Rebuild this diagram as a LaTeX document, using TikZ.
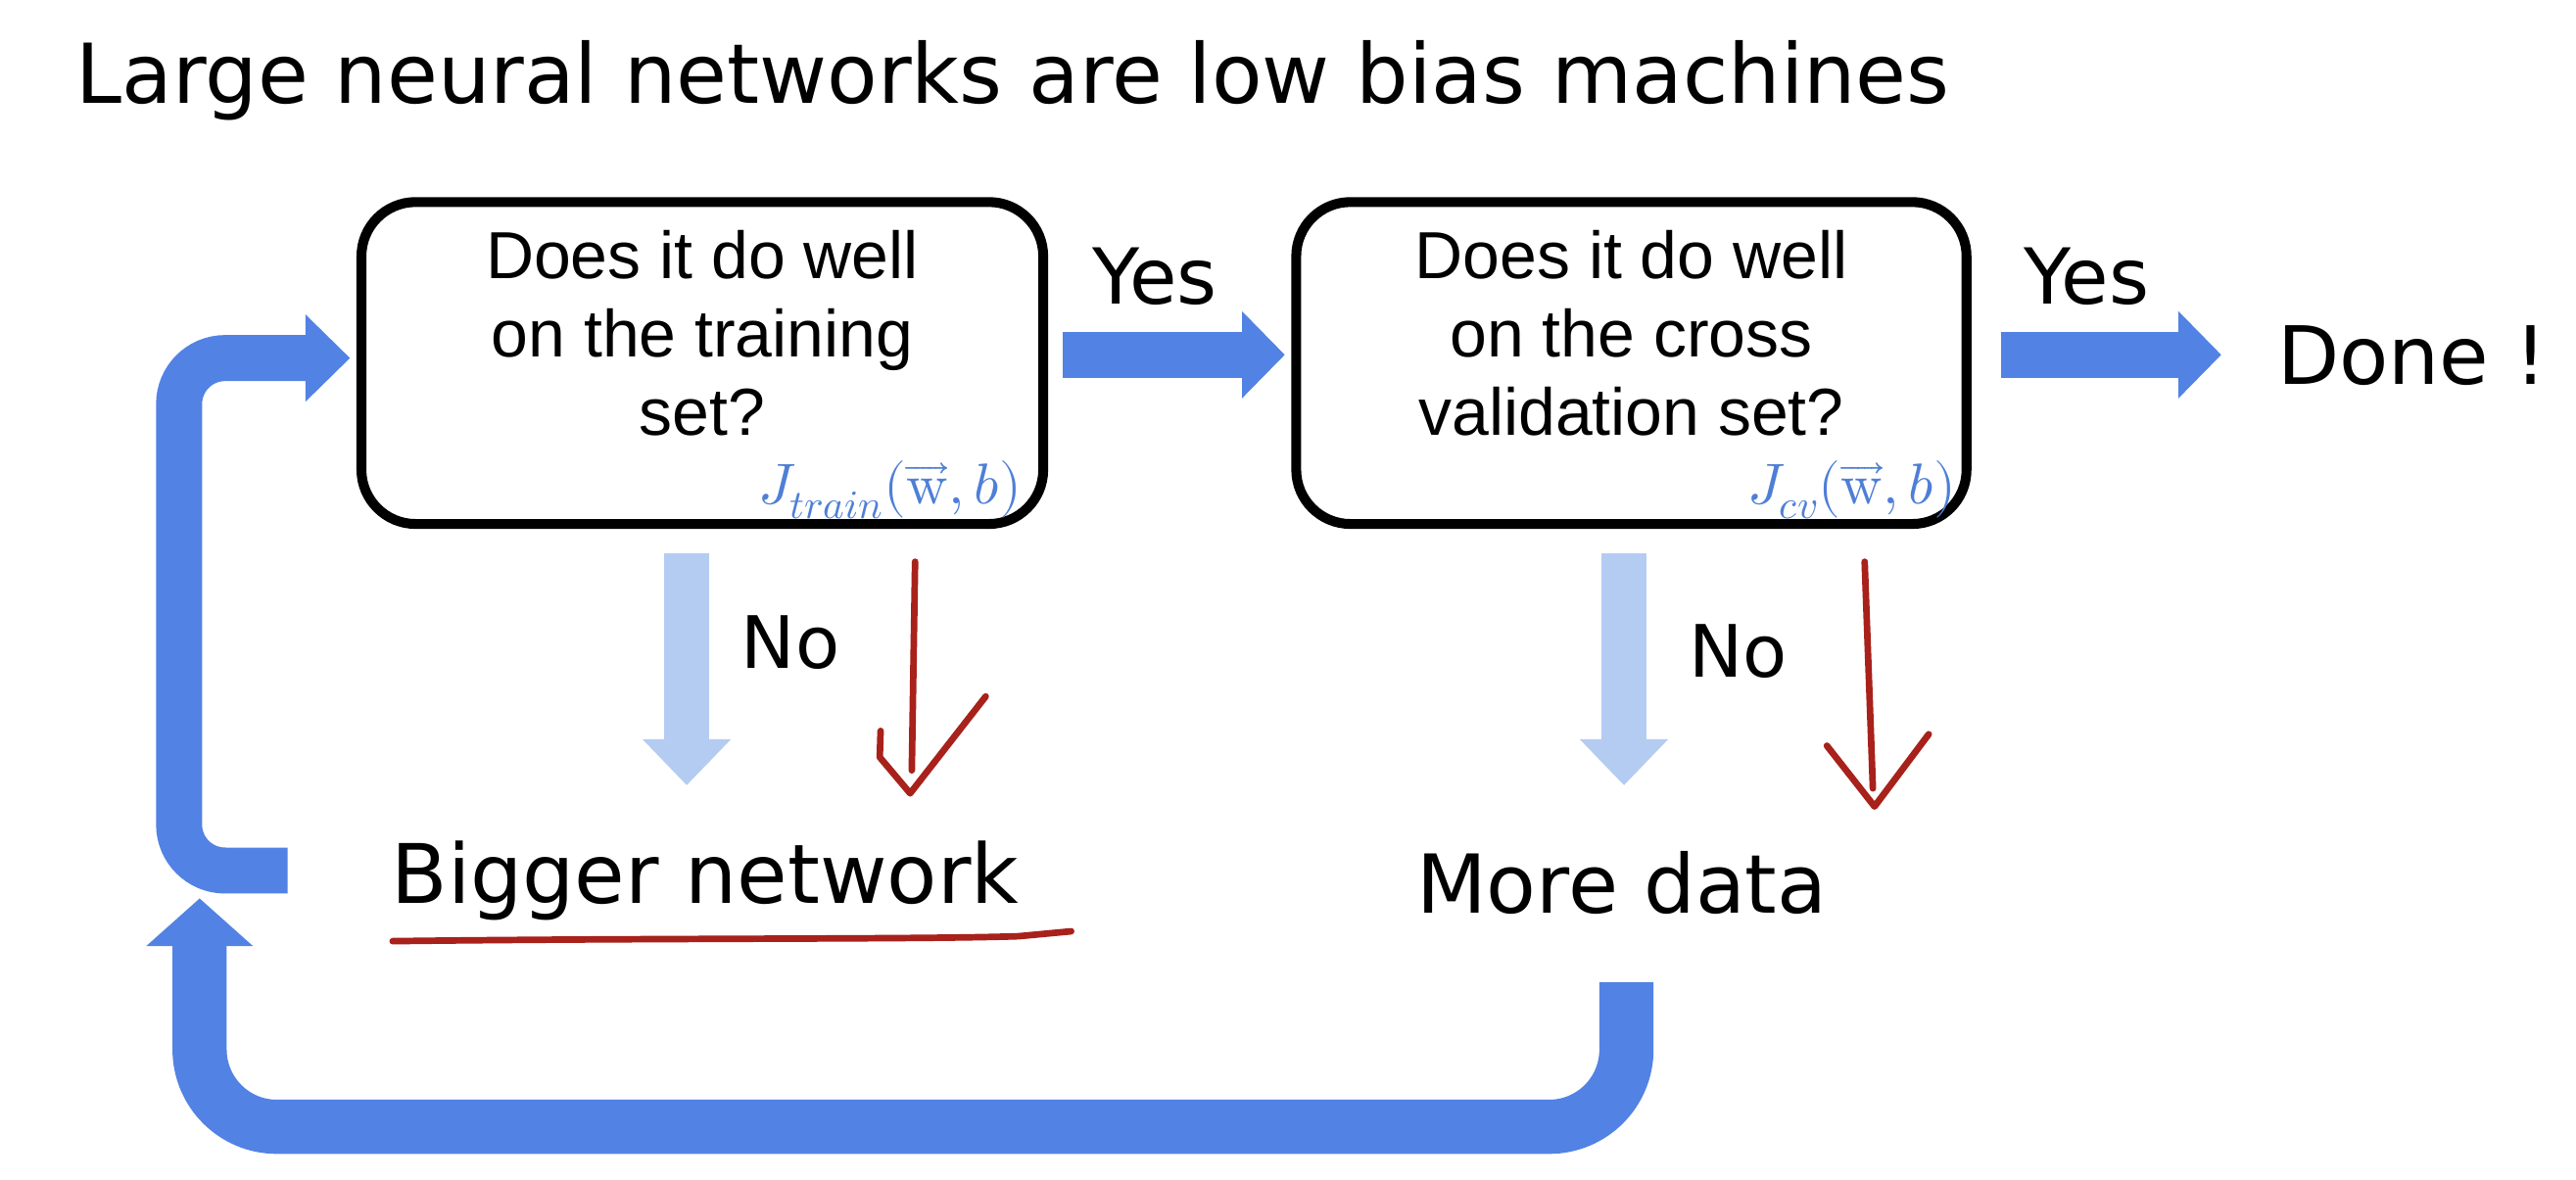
\documentclass[tikz,border=0pt]{standalone}
\usepackage{unicode-math}
\setmainfont{DejaVu Sans}
\setmathfont{Latin Modern Math}
\newfontfamily\boxfont{Liberation Sans}
\usetikzlibrary{arrows.meta}
\definecolor{arrowblue}{HTML}{5282E4}
\definecolor{paleblue}{HTML}{B4CCF2}
\definecolor{inkred}{HTML}{A8211B}
\definecolor{jblue}{HTML}{4E7FD6}
\tikzset{
  qbox/.style={draw=black, line width=6pt, rounded corners=33pt, inner sep=0pt},
  qtext/.style={align=center, font=\boxfont\fontsize{40.5}{47.7}\selectfont, inner sep=0pt},
  jlabel/.style={text=jblue, font=\fontsize{35}{38}\selectfont, inner sep=0pt, anchor=base east},
  bigtext/.style={font=\fontsize{49}{58}\selectfont, inner sep=0pt, anchor=base west},
  yestext/.style={font=\fontsize{47}{55}\selectfont, inner sep=0pt, anchor=base west},
  notext/.style={font=\fontsize{44}{52}\selectfont, inner sep=0pt, anchor=base west},
  yesarrow/.style={draw=arrowblue, line width=28pt, -{Triangle[length=26pt,width=53pt,line width=0pt]}},
  noarrow/.style={draw=paleblue, line width=27pt, -{Triangle[length=28pt,width=54pt,line width=0pt]}},
  loopA/.style={draw=arrowblue, line width=28pt, rounded corners=28pt, -{Triangle[length=27pt,width=53pt,line width=0pt]}},
  loopB/.style={draw=arrowblue, line width=33pt, rounded corners=47pt, -{Triangle[length=29pt,width=65pt,line width=0pt]}},
  redpen/.style={draw=inkred, line width=4pt, line cap=round, line join=round},
}
\begin{document}
\begin{tikzpicture}[x=1pt,y=-1pt]
\useasboundingbox[fill=white] (0,0) rectangle (1568,718);

% title
\node[font=\fontsize{50.3}{60}\selectfont, inner sep=0pt, anchor=base west] (title) at (46,63) {Large neural networks are low bias machines};

% question boxes
\node[qbox, minimum width=415pt, minimum height=196pt] (q1) at (427.5,221) {};
\node[qbox, minimum width=408pt, minimum height=196pt] (q2) at (993,221) {};
\node[qtext] (q1t) at (427.5,203) {Does it do well\\on the training\\set?};
\node[qtext] (q2t) at (993,203) {Does it do well\\on the cross\\validation set?};
\node[jlabel] (j1) at (622,307) {$J_{train}(\overrightarrow{\symup{w}},b)$};
\node[jlabel] (j2) at (1191,307) {$J_{cv}(\overrightarrow{\symup{w}},b)$};

% labels and outcomes
\node[yestext] (yes1) at (665,185) {Yes};
\node[yestext] (yes2) at (1232,185) {Yes};
\node[bigtext] (done) at (1386,234) {Done !};
\node[notext] (no1) at (451,407) {No};
\node[notext] (no2) at (1028,412) {No};
\node[font=\fontsize{50}{60}\selectfont, inner sep=0pt, anchor=base west] (bn) at (238,550) {Bigger network};
\node[font=\fontsize{49.5}{59}\selectfont, inner sep=0pt, anchor=base west] (md) at (862,556) {More data};

% connector end points
\coordinate (y1a) at (647,216);
\coordinate (y1b) at (782,216);
\coordinate (y2a) at (1218,216);
\coordinate (y2b) at (1352,216);
\coordinate (n1a) at (418,337);
\coordinate (n1b) at (418,478);
\coordinate (n2a) at (988.5,337);
\coordinate (n2b) at (988.5,478);
\coordinate (l1s) at (175,530);
\coordinate (l1c) at (109,218);
\coordinate (l1e) at (213,218);
\coordinate (l2s) at (990,598);
\coordinate (l2c) at (121.5,686);
\coordinate (l2e) at (121.5,547);

% connectors
\draw[yesarrow] (y1a) -- (y1b);
\draw[yesarrow] (y2a) -- (y2b);
\draw[noarrow] (n1a) -- (n1b);
\draw[noarrow] (n2a) -- (n2b);
\draw[loopA] (l1s) -| (l1c) -- (l1e);
\draw[loopB] (l2s) |- (l2c) -- (l2e);

% red pen annotations
\draw[redpen] (557,342) -- (555,469);
\draw[redpen] (536,445) -- (535.5,461) -- (554,483) -- (600,424);
\draw[redpen] (1135,342) -- (1140,480);
\draw[redpen] (1112,454) -- (1141,491) -- (1174,447);
\draw[redpen] (239,573) .. controls (400,571) and (560,572) .. (620,570) -- (652,567);
\end{tikzpicture}
\end{document}
